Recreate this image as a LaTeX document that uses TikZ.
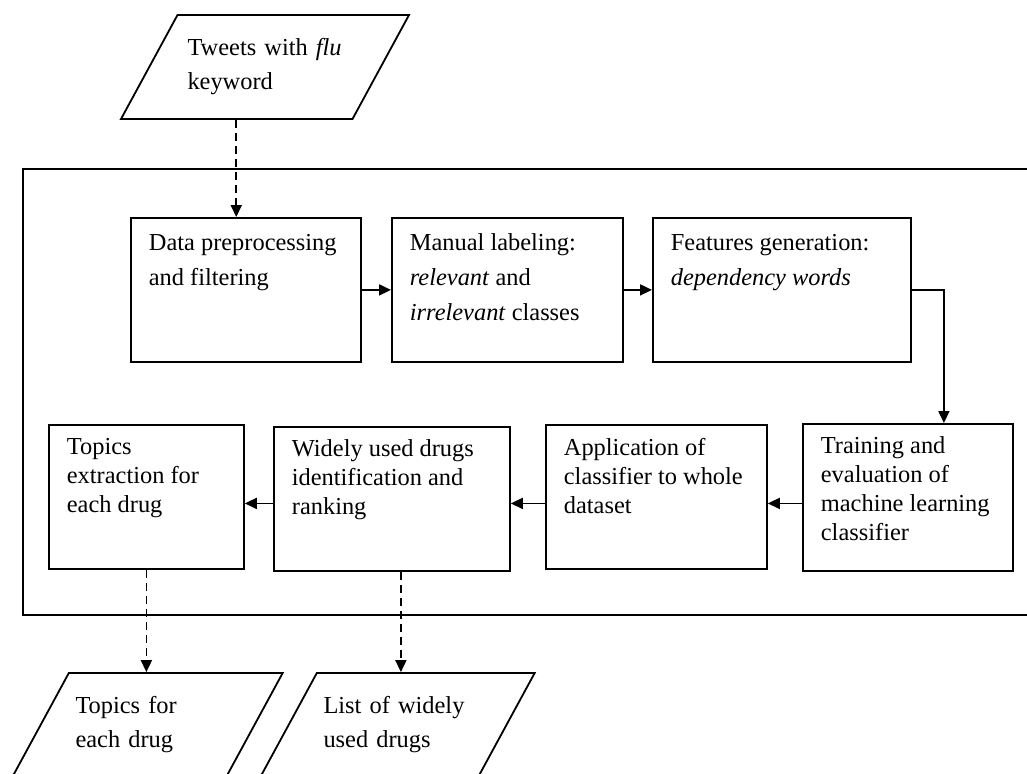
\documentclass[tikz,border=0pt]{standalone}
\usepackage{fontspec}
\setmainfont{Liberation Serif}
\usetikzlibrary{arrows.meta,shapes.geometric}

\newcommand{\proctext}[3]{\parbox[t][#2][t]{#1}{\raggedright #3}}

\tikzset{
  proc/.style={draw, line width=0.9pt, anchor=north west, inner xsep=9pt, inner ysep=8pt,
    font=\fontsize{12.2pt}{17.5pt}\selectfont},
  proclow/.style={proc, inner ysep=6.5pt, font=\fontsize{12.2pt}{14.5pt}\selectfont},
  io/.style={draw, line width=0.9pt, trapezium, trapezium left angle=51, trapezium right angle=129,
    trapezium stretches body, minimum height=52pt, align=left, font=\fontsize{12.2pt}{17pt}\selectfont},
  flow/.style={line width=0.9pt, -{Triangle[length=6pt,width=5.5pt]}},
  dataflow/.style={flow, dash pattern=on 4pt off 2.5pt},
}

\begin{document}
\begin{tikzpicture}[x=0.5pt, y=-0.5pt]
  \useasboundingbox (0,0) rectangle (1027,773);
  \clip (0,0) rectangle (1027,773);

  \node[io, minimum width=144pt, text width=77.5pt] (tweets) at (265,67) {Tweets with \textit{flu}\\keyword};

  \draw[line width=0.9pt] (23,169) rectangle (1040,615);

  \node[proc] (data) at (130,217) {\proctext{97pt}{56pt}{Data preprocessing\\and filtering}};
  \node[proc] (manual) at (391,217) {\proctext{97.5pt}{56pt}{Manual labeling:\\\textit{relevant} and\\\textit{irrelevant} classes}};
  \node[proc] (features) at (652,217) {\proctext{111pt}{56pt}{Features generation:\\\textit{dependency words}}};

  \node[proclow] (training) at (802,423) {\proctext{87pt}{60.5pt}{Training and\\evaluation of\\machine learning\\classifier}};
  \node[proclow] (application) at (545,424) {\proctext{92.5pt}{59pt}{Application of\\classifier to whole\\dataset}};
  \node[proclow] (widely) at (273,426) {\proctext{100pt}{59pt}{Widely used drugs\\identification and\\ranking}};
  \node[proclow] (topics) at (48,424) {\proctext{79.5pt}{59pt}{Topics\\extraction for\\each drug}};

  \node[io, minimum width=134.5pt, text width=72pt] (topicsout) at (147.5,725) {Topics for\\each drug};
  \node[io, minimum width=134.5pt, text width=74pt] (drugsout) at (397.5,725) {List of widely\\used drugs};

  \draw[dataflow] (tweets.bottom side) -- (tweets.bottom side |- data.north);
  \draw[flow] (data.east) -- (manual.west);
  \draw[flow] (manual.east) -- (features.west);
  \draw[flow] (features.east) -| ([xshift=18pt]training.north);
  \draw[flow] ([yshift=-3pt]training.west) -- ([yshift=-3pt]training.west -| application.east);
  \draw[flow] ([yshift=-3pt]training.west -| application.west) -- ([yshift=-3pt]training.west -| widely.east);
  \draw[flow] ([yshift=-3pt]training.west -| widely.west) -- ([yshift=-3pt]training.west -| topics.east);
  \draw[dataflow] (topics.south) -- (topics.south |- topicsout.north);
  \draw[dataflow] ([xshift=4.5pt]widely.south) -- ([xshift=4.5pt]widely.south |- drugsout.north);
\end{tikzpicture}
\end{document}
